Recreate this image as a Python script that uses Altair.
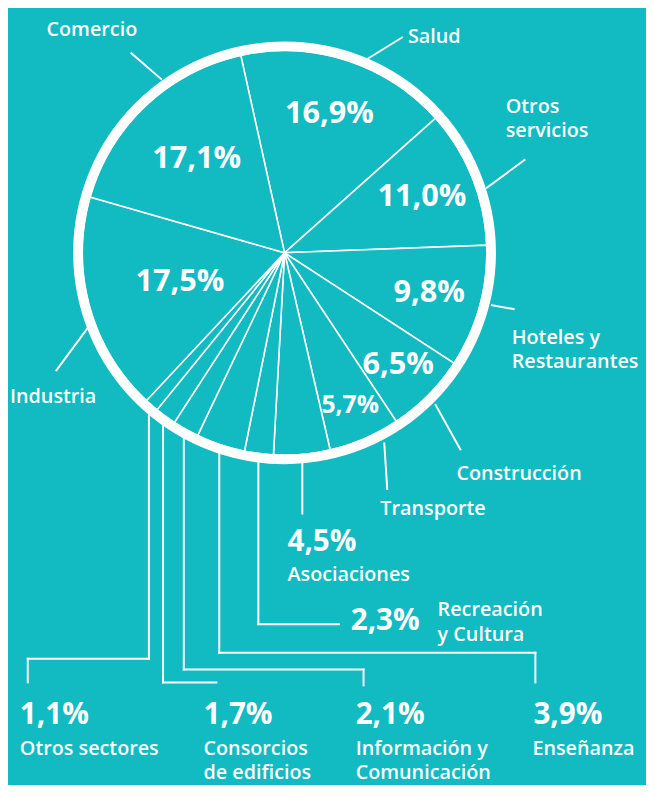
import math
import numpy as np
import pandas as pd
import altair as alt

# ---------------- data ----------------
categories = ["Salud", "Otros servicios", "Hoteles y Restaurantes", "Construcción",
              "Transporte", "Asociaciones", "Recreación y Cultura", "Enseñanza",
              "Información y Comunicación", "Consorcios de edificios", "Otros sectores",
              "Industria", "Comercio"]
values = [16.9, 11.0, 9.8, 6.5, 5.7, 4.5, 2.3, 3.9, 2.1, 1.7, 1.1, 17.5, 17.1]
label_lines = [["Salud"], ["Otros", "servicios"], ["Hoteles y", "Restaurantes"],
               ["Construcción"], ["Transporte"], ["Asociaciones"], ["Recreación", "y Cultura"],
               ["Enseñanza"], ["Información y", "Comunicación"], ["Consorcios", "de edificios"],
               ["Otros sectores"], ["Industria"], ["Comercio"]]

# ---------------- layout ----------------
BG = "#12BAC2"
FONT = "Open Sans"
M = 8                    # page margin
W, H = 646, 777          # svg size
CX, CY = 288, 251        # pie centre (page coords)
R_SLICE = 205
R_IN, R_OUT = 204, 214
START = math.radians(-12.5) + 2 * math.pi

# slices labelled inside: radius, font size
inner_r = {"Salud": 148, "Otros servicios": 150, "Hoteles y Restaurantes": 152,
           "Construcción": 162, "Transporte": 168, "Industria": 110, "Comercio": 130}
inner_fs = {"Transporte": 25}
INNER_FS = 31

# category label anchor (left x, first baseline), line height
cat_pos = {"Salud": (413, 39), "Otros servicios": (512, 109),
           "Hoteles y Restaurantes": (518, 343), "Construcción": (462, 481),
           "Transporte": (385, 516), "Asociaciones": (291, 583),
           "Recreación y Cultura": (443, 619), "Enseñanza": (539, 759),
           "Información y Comunicación": (360, 759), "Consorcios de edificios": (206, 759),
           "Otros sectores": (20, 759), "Industria": (10, 403), "Comercio": (47, 31)}
LH = 25

# outside percentage labels (left x, baseline)
pct_pos = {"Asociaciones": (291, 553), "Recreación y Cultura": (355, 633),
           "Otros sectores": (20, 728), "Consorcios de edificios": (206, 728),
           "Información y Comunicación": (360, 728), "Enseñanza": (540, 728)}

# fixed leader lines for side labels
fixed_leaders = {"Comercio": (133, 49, 163, 75), "Salud": (407, 33, 373, 54),
                 "Otros servicios": (531, 157, 493, 185),
                 "Hoteles y Restaurantes": (498, 304, 520, 308),
                 "Construcción": (441, 405, 466, 450), "Transporte": (389, 444, 392, 490),
                 "Industria": (88, 328, 57, 370)}

# elbow leaders for bottom labels: drop from slice middle, then path points
elbows = {"Asociaciones": [(None, 515)],
          "Recreación y Cultura": [(None, 627), (343, 627)],
          "Enseñanza": [(None, 656), (542, 656), (542, 686)],
          "Información y Comunicación": [(None, 673), (368, 673), (368, 689)],
          "Consorcios de edificios": [(None, 686), (219, 686)],
          "Otros sectores": [(None, 662), (28, 662), (28, 686)]}


def fmt(v):
    return f"{v:.1f}%".replace(".", ",")


# ---------------- derived tables ----------------
vals = np.array(values)
total = vals.sum()
cum = np.cumsum(vals)
mids = START + 2 * math.pi * (cum - vals / 2) / total

pie = pd.DataFrame({"cat": categories, "value": values, "idx": list(range(len(values)))})

inner_rows = []
for i, c in enumerate(categories):
    if c in inner_r:
        r = inner_r[c]
        inner_rows.append({"x": CX + r * math.sin(mids[i]), "y": CY - r * math.cos(mids[i]),
                           "text": fmt(values[i]), "fs": inner_fs.get(c, INNER_FS)})
inner_df = pd.DataFrame(inner_rows)

segs = []
for c, (x1, y1, x2, y2) in fixed_leaders.items():
    segs.append({"x": x1, "y": y1, "x2": x2, "y2": y2})
for c, pts in elbows.items():
    i = categories.index(c)
    a = mids[i]
    px = CX + 209 * math.sin(a)
    py = CY - 209 * math.cos(a)
    prev = (px, py)
    for (ex, ey) in pts:
        ex = px if ex is None else ex
        segs.append({"x": prev[0], "y": prev[1], "x2": ex, "y2": ey})
        prev = (ex, ey)
segs = pd.DataFrame(segs)

cat_df = pd.DataFrame([{"x": cat_pos[c][0], "y": cat_pos[c][1], "text": "\n".join(lines)}
                       for c, lines in zip(categories, label_lines)])

pct_df = pd.DataFrame([{"x": pct_pos[c][0], "y": pct_pos[c][1],
                        "text": fmt(values[categories.index(c)])} for c in pct_pos])

# ---------------- chart ----------------
xs = alt.Scale(domain=[M, M + W], nice=False, zero=False)
ys = alt.Scale(domain=[M, M + H], nice=False, zero=False, reverse=True)
theta_scale = alt.Scale(range=[START, START + 2 * math.pi])
cxv, cyv = alt.value(CX - M), alt.value(CY - M)

slices = alt.Chart(pie).mark_arc(
    outerRadius=R_SLICE, stroke="white", strokeWidth=1.6, fill=BG
).encode(
    theta=alt.Theta("value:Q", stack=True, scale=theta_scale),
    order=alt.Order("idx:Q"),
    x=cxv, y=cyv,
)

lines = alt.Chart(segs).mark_rule(color="white", strokeWidth=2, strokeCap="square").encode(
    x=alt.X("x:Q", scale=xs, axis=None), y=alt.Y("y:Q", scale=ys, axis=None),
    x2="x2:Q", y2="y2:Q",
)

ring = alt.Chart(pd.DataFrame({"a": [0]})).mark_arc(
    innerRadius=R_IN, outerRadius=R_OUT, theta=0, theta2=2 * math.pi, fill="white"
).encode(x=cxv, y=cyv)

inner = alt.Chart(inner_df).mark_text(
    font=FONT, fontWeight="bold", color="white", align="center", baseline="middle"
).encode(
    x=alt.X("x:Q", scale=xs, axis=None), y=alt.Y("y:Q", scale=ys, axis=None),
    size=alt.Size("fs:Q", scale=None),
    text="text:N",
)

cat_text = alt.Chart(cat_df).mark_text(
    font=FONT, fontSize=20, fontWeight=600, color="white", align="left",
    baseline="alphabetic", lineBreak="\n", lineHeight=LH,
).encode(
    x=alt.X("x:Q", scale=xs, axis=None), y=alt.Y("y:Q", scale=ys, axis=None), text="text:N"
)

pct_text = alt.Chart(pct_df).mark_text(
    font=FONT, fontSize=30, fontWeight="bold", color="white", align="left", baseline="alphabetic"
).encode(
    x=alt.X("x:Q", scale=xs, axis=None), y=alt.Y("y:Q", scale=ys, axis=None), text="text:N"
)

chart = alt.layer(slices, lines, ring, inner, cat_text, pct_text).properties(
    width=W, height=H, background=BG, padding=0,
    autosize=alt.AutoSizeParams(type="none"),
).configure_view(stroke=None)

chart.save("out.html", embed_options={"renderer": "svg", "actions": False})
